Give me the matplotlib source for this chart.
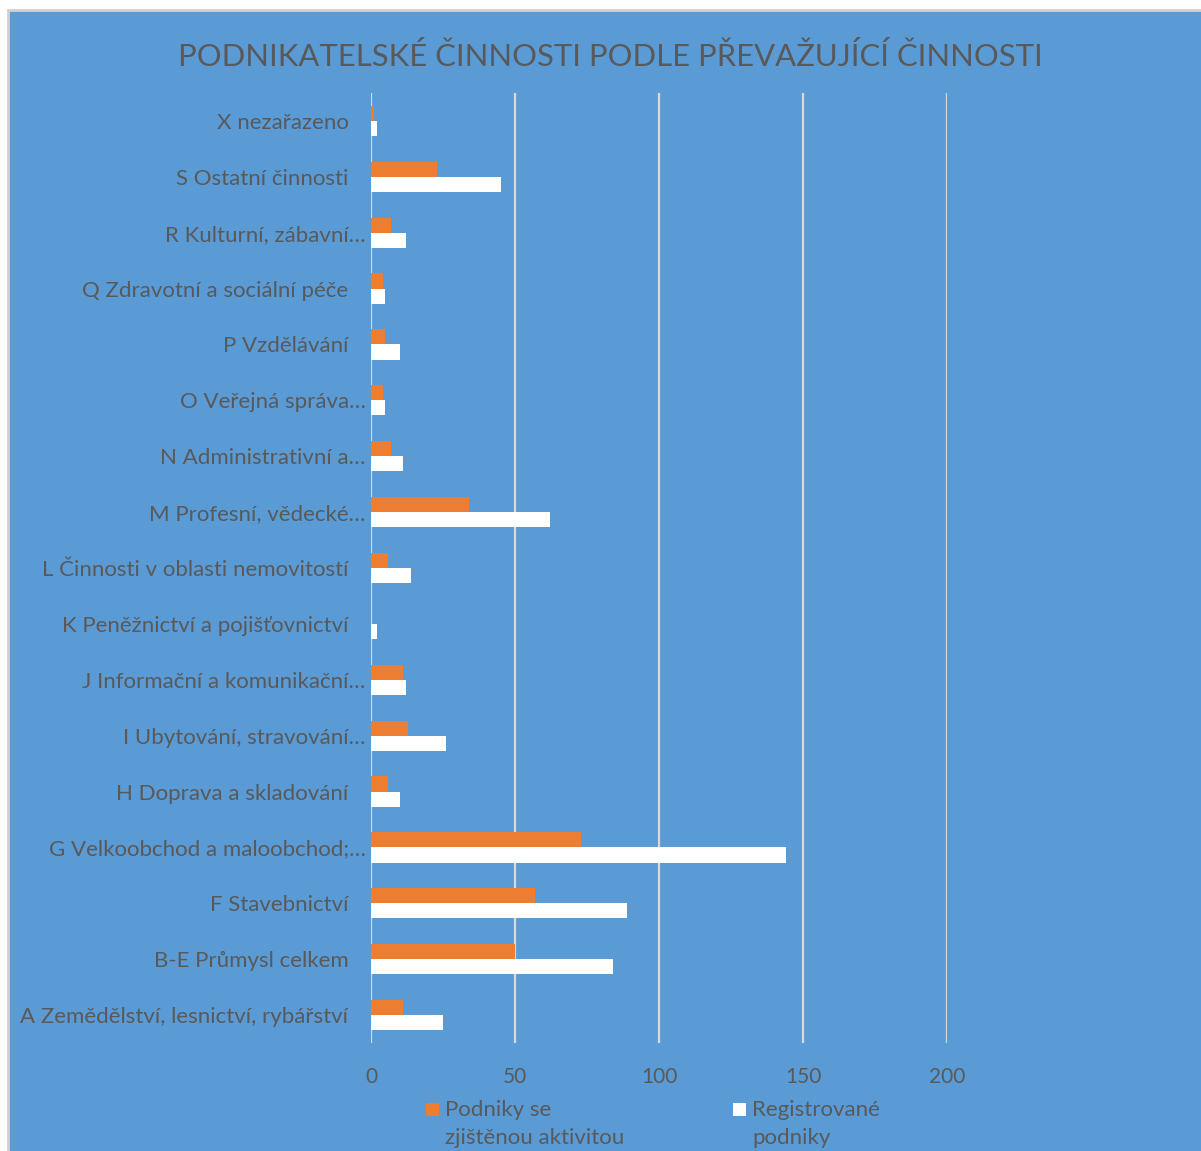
import numpy as np
import matplotlib
matplotlib.use("Agg")
import matplotlib.pyplot as plt
from matplotlib.patches import Rectangle
from matplotlib.transforms import ScaledTranslation

# Data (bottom to top as drawn)
categories = [
    "A Zemědělství, lesnictví, rybářství",
    "B-E Průmysl celkem",
    "F Stavebnictví",
    "G Velkoobchod a maloobchod;…",
    "H Doprava a skladování",
    "I Ubytování, stravování…",
    "J Informační a komunikační…",
    "K Peněžnictví a pojišťovnictví",
    "L Činnosti v oblasti nemovitostí",
    "M Profesní, vědecké…",
    "N Administrativní a…",
    "O Veřejná správa…",
    "P Vzdělávání",
    "Q Zdravotní a sociální péče",
    "R Kulturní, zábavní…",
    "S Ostatní činnosti",
    "X nezařazeno",
]
active = [11, 50, 57, 73, 6, 13, 11, 0, 6, 34, 7, 4, 5, 4, 7, 23, 1]
registered = [25, 84, 89, 144, 10, 26, 12, 2, 14, 62, 11, 5, 10, 5, 12, 45, 2]
series_names = ["Podniky se\nzjištěnou aktivitou", "Registrované\npodniky"]
xticks = [0, 50, 100, 150, 200]

BLUE = "#5B9BD5"
ORANGE = "#ED7D31"
GRAY = "#595959"
GRID = "#D9D9D9"

plt.rcParams["font.family"] = ["Lato", "DejaVu Sans"]

W, H = 1201, 1151
fig = plt.figure(figsize=(W / 100, H / 100), dpi=100, facecolor="white")

# blue chart area with a thin gray border
fig.add_artist(Rectangle((8 / W, -0.01), 1.01, (H - 10) / H + 0.01,
                         transform=fig.transFigure, facecolor=BLUE,
                         edgecolor="#D0D0D0", lw=2, zorder=0))

ax = fig.add_axes([371 / W, 108 / H, 576 / W, 950 / H])
ax.set_facecolor("none")

y = np.arange(len(categories))
h = 0.27
ax.barh(y + h / 2, active, height=h, color=ORANGE, zorder=3)
ax.barh(y - h / 2, registered, height=h, color="white", zorder=3)

ax.set_xlim(0, 200)
ax.set_ylim(-0.5, len(categories) - 0.5)
ax.set_xticks(xticks)
ax.set_xticklabels([str(t) for t in xticks])
ax.set_yticks(y)
ax.set_yticklabels(categories)

ax.grid(axis="x", color=GRID, lw=1.6, zorder=1)
ax.tick_params(axis="both", length=0, colors=GRAY)
ax.tick_params(axis="y", pad=4, labelsize=16)
ax.tick_params(axis="x", pad=17, labelsize=15)
for s in ax.spines.values():
    s.set_visible(False)

# labels that are not shortened sit a bit further left
for lbl in ax.get_yticklabels():
    if not lbl.get_text().endswith("…"):
        lbl.set_transform(lbl.get_transform() + ScaledTranslation(-17 / 100, 0, fig.dpi_scale_trans))

fig.text(610 / W, (H - 56) / H, "PODNIKATELSKÉ ČINNOSTI PODLE PŘEVAŽUJÍCÍ ČINNOSTI",
         ha="center", va="center", fontsize=22.3, color=GRAY)

# legend below the axis (square lines up with the first text line)
leg_x = [426, 733]
for xpos, name, col in zip(leg_x, series_names, [ORANGE, "white"]):
    fig.add_artist(Rectangle((xpos / W, (H - 1116) / H), 13 / W, 13 / H,
                             transform=fig.transFigure, facecolor=col, edgecolor="none"))
    fig.text((xpos + 19) / W, (H - 1144) / H, name, ha="left", va="baseline",
             fontsize=16, color=GRAY, linespacing=1.52,
             multialignment="left")

fig.savefig("out.png", dpi=100)
